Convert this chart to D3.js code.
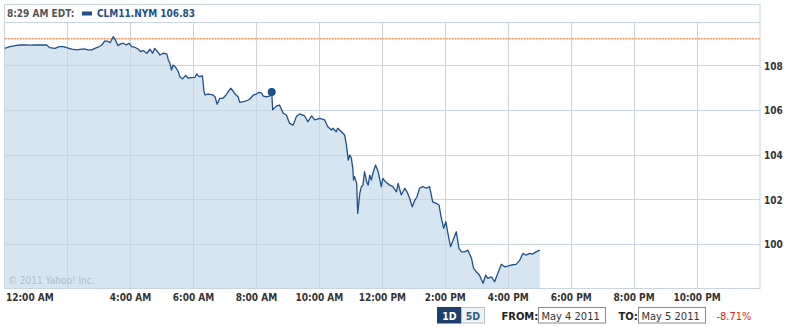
<!DOCTYPE html>
<html>
<head>
<meta charset="utf-8">
<script src="https://cdn.jsdelivr.net/npm/d3@7"></script>
<style>
  body { margin: 0; background: #fff; }
  svg { display: block; font-family: "DejaVu Sans Condensed", "DejaVu Sans", sans-serif; }
</style>
</head>
<body>
<svg></svg>
<script>
const w = 790;
const h = 327;

// minutes after midnight, May 5 2011
const times = [
  0, 10, 20, 29, 39, 48, 58, 67, 80, 86,
  96, 104, 112, 118, 128, 137, 147, 153, 159, 166,
  172, 178, 185, 191, 197, 201, 207, 211, 216, 221,
  226, 232, 237, 242, 248, 255, 259, 264, 271, 277,
  282, 286, 293, 296, 302, 309, 312, 315, 318, 321,
  326, 331, 334, 339, 345, 350, 356, 363, 366, 371,
  377, 380, 382, 388, 397, 401, 405, 410, 416, 422,
  426, 431, 435, 439, 445, 448, 455, 461, 467, 474,
  480, 485, 490, 493, 499, 505, 509, 511, 518, 524,
  531, 537, 543, 550, 556, 562, 572, 578, 585, 591,
  601, 610, 616, 623, 626, 632, 635, 642, 648, 651,
  655, 658, 661, 664, 665, 667, 671, 673, 677, 680,
  683, 686, 690, 693, 696, 699, 702, 707, 712, 718,
  721, 726, 734, 740, 747, 750, 756, 763, 767, 772,
  777, 782, 786, 791, 797, 804, 810, 816, 823, 828,
  832, 837, 841, 845, 850, 855, 861, 866, 871, 877,
  883, 890, 894, 899, 905, 912, 917, 921, 928, 934,
  940, 947, 953, 959, 966, 975, 982, 988, 994, 1001,
  1007, 1013, 1020
];
const prices = [
  108.79, 108.87, 108.91, 108.94, 108.94, 108.93, 108.94, 108.94, 108.94, 108.82,
  108.79, 108.87, 108.87, 108.82, 108.75, 108.72, 108.75, 108.76, 108.72, 108.72,
  108.79, 108.84, 108.94, 109.12, 109.10, 109.04, 109.31, 109.17, 108.91, 108.99,
  109.02, 108.94, 109.02, 108.87, 108.84, 108.75, 108.64, 108.69, 108.57, 108.75,
  108.57, 108.79, 108.60, 108.49, 108.57, 108.54, 108.27, 108.12, 107.82, 108.04,
  107.94, 107.74, 107.52, 107.42, 107.57, 107.45, 107.48, 107.49, 107.64, 107.52,
  107.55, 106.85, 106.70, 106.74, 106.70, 106.62, 106.28, 106.55, 106.55, 106.70,
  106.85, 107.00, 106.89, 106.74, 106.62, 106.37, 106.40, 106.44, 106.51, 106.70,
  106.74, 106.82, 106.78, 106.65, 106.62, 106.65, 106.83, 106.03, 106.21, 106.25,
  105.88, 105.80, 105.43, 105.35, 105.73, 105.85, 105.76, 105.50, 105.76, 105.58,
  105.65, 105.58, 105.28, 105.13, 105.21, 105.05, 105.21, 105.05, 104.91, 104.53,
  103.78, 104.01, 103.86, 103.34, 102.89, 103.04, 102.74, 101.39, 102.29, 102.59,
  102.66, 103.26, 102.81, 102.66, 103.11, 102.89, 103.19, 103.56, 103.26, 102.59,
  102.96, 102.81, 102.66, 102.59, 102.36, 102.74, 102.22, 102.52, 102.36, 102.07,
  101.69, 101.99, 102.14, 102.52, 102.59, 102.52, 102.59, 101.91, 101.84, 101.77,
  101.24, 100.72, 101.02, 100.50, 99.90, 100.20, 100.57, 99.83, 99.67, 99.67,
  99.75, 99.38, 98.93, 98.78, 98.63, 98.26, 98.63, 98.48, 98.55, 98.33,
  98.70, 99.11, 99.00, 99.03, 99.08, 99.11, 99.30, 99.60, 99.52, 99.60,
  99.57, 99.67, 99.75
];
const yTicks = [100, 102, 104, 106, 108];
const prevClose = 109.22;
const hoverIndex = 86; // 8:29 AM point
const symbol = "CLM11.NYM";
const changeLabel = "-8.71%";
const fromLabel = "May 4 2011";
const toLabel = "May 5 2011";

const day = new Date(2011, 4, 5);
const toDate = (m) => new Date(day.getTime() + m * 60000);
const data = times.map((m, i) => ({ t: toDate(m), v: prices[i] }));

const plotL = 4.7, plotR = 760, plotT = 22, plotB = 288;
const gridColor = "#c8d5e0";
const lineColor = "#1f5189";
const crisp = (v) => Math.floor(v) + 0.5;

const svg = d3.select("svg").attr("width", w).attr("height", h);

const x = d3.scaleTime()
  .domain([day, d3.timeDay.offset(day, 1)])
  .range([plotL, plotR]);
const y = d3.scaleLinear()
  .domain([98.05, 109.97])
  .range([plotB, plotT]);

/** filled area */
svg.append("path")
  .datum(data)
  .attr("fill", "#d6e5f0")
  .attr("d", d3.area().x((d) => x(d.t)).y0(plotB).y1((d) => y(d.v)));

/** grid */
const hourTicks = x.ticks(d3.timeHour.every(2)).filter((t) => t > day && t < x.domain()[1]);
svg.selectAll(".vgrid")
  .data(hourTicks)
  .enter()
  .append("line")
  .attr("x1", (d) => crisp(x(d)))
  .attr("x2", (d) => crisp(x(d)))
  .attr("y1", plotT)
  .attr("y2", plotB)
  .attr("stroke", gridColor);

svg.selectAll(".hgrid")
  .data(yTicks)
  .enter()
  .append("line")
  .attr("x1", plotL)
  .attr("x2", plotR)
  .attr("y1", (d) => crisp(y(d)))
  .attr("y2", (d) => crisp(y(d)))
  .attr("stroke", gridColor);

// frame and header separator
svg.append("rect")
  .attr("x", 4.5).attr("y", 4.5)
  .attr("width", 755.5).attr("height", plotB - 4)
  .attr("fill", "none").attr("stroke", gridColor);
svg.append("line")
  .attr("x1", 4.5).attr("x2", plotR)
  .attr("y1", plotT + 0.5).attr("y2", plotT + 0.5)
  .attr("stroke", gridColor);

/** previous close */
svg.append("line")
  .attr("x1", plotL).attr("x2", plotR)
  .attr("y1", y(prevClose)).attr("y2", y(prevClose))
  .attr("stroke", "#f7955a")
  .attr("stroke-width", 1.5)
  .attr("stroke-dasharray", "2,1");

/** price line */
svg.append("path")
  .datum(data)
  .attr("fill", "none")
  .attr("stroke", lineColor)
  .attr("stroke-width", 1.3)
  .attr("stroke-linejoin", "round")
  .attr("d", d3.line().x((d) => x(d.t)).y((d) => y(d.v)));

const hover = data[hoverIndex];
svg.append("circle")
  .attr("cx", x(hover.t))
  .attr("cy", y(hover.v))
  .attr("r", 4)
  .attr("fill", lineColor);

svg.append("text")
  .attr("x", 8).attr("y", 284)
  .attr("font-size", 10)
  .attr("fill", "#b3bcc5")
  .text("\u00a9 2011 Yahoo! Inc.");

/** axis labels */
const fmt = d3.timeFormat("%-I:%M %p");
const labelTicks = [day].concat(hourTicks.filter((t) => t.getHours() !== 2));
svg.selectAll(".xlab")
  .data(labelTicks)
  .enter()
  .append("text")
  .attr("x", (d) => (d.getTime() === day.getTime() ? 6 : x(d)))
  .attr("y", 300.5)
  .attr("text-anchor", (d) => (d.getTime() === day.getTime() ? "start" : "middle"))
  .attr("font-size", 10)
  .attr("font-weight", "bold")
  .attr("fill", "#333")
  .text((d) => fmt(d));

svg.selectAll(".ylab")
  .data(yTicks)
  .enter()
  .append("text")
  .attr("x", 764)
  .attr("y", (d) => y(d) + 3.7)
  .attr("font-size", 10)
  .attr("font-weight", "bold")
  .attr("fill", "#333")
  .text((d) => d);

/** header */
svg.append("text")
  .attr("x", 7).attr("y", 17)
  .attr("font-size", 10)
  .attr("font-weight", "bold")
  .attr("fill", "#555")
  .text(fmt(hover.t) + " EDT:");
svg.append("rect")
  .attr("x", 82).attr("y", 11.5)
  .attr("width", 10).attr("height", 4)
  .attr("fill", lineColor);
svg.append("text")
  .attr("x", 97).attr("y", 17)
  .attr("font-size", 10)
  .attr("font-weight", "bold")
  .attr("fill", lineColor)
  .text(symbol + " " + d3.format(".2f")(hover.v));

/** range controls */
const ctl = svg.append("g");
ctl.append("rect")
  .attr("x", 437.5).attr("y", 307.5).attr("width", 23.5).attr("height", 15.5)
  .attr("fill", "#1c3f6c").attr("stroke", "#1c3f6c");
ctl.append("text")
  .attr("x", 449.5).attr("y", 319.5).attr("text-anchor", "middle")
  .attr("font-size", 10.5).attr("font-weight", "bold").attr("fill", "#fff")
  .text("1D");
ctl.append("rect")
  .attr("x", 461.5).attr("y", 307.5).attr("width", 23).attr("height", 15.5)
  .attr("fill", "#eef2f7").attr("stroke", "#b4c2d0");
ctl.append("text")
  .attr("x", 473).attr("y", 319.5).attr("text-anchor", "middle")
  .attr("font-size", 10.5).attr("font-weight", "bold").attr("fill", "#2b5d8f")
  .text("5D");

ctl.append("text")
  .attr("x", 501.5).attr("y", 319.5)
  .attr("font-size", 11).attr("font-weight", "bold").attr("fill", "#222")
  .text("FROM:");
ctl.append("rect")
  .attr("x", 538.5).attr("y", 307.5).attr("width", 67).attr("height", 15.5)
  .attr("fill", "#fff").attr("stroke", "#8a8a8a");
ctl.append("text")
  .attr("x", 541.5).attr("y", 319.5)
  .attr("font-size", 11).attr("fill", "#333")
  .text(fromLabel);

ctl.append("text")
  .attr("x", 618.5).attr("y", 319.5)
  .attr("font-size", 11).attr("font-weight", "bold").attr("fill", "#222")
  .text("TO:");
ctl.append("rect")
  .attr("x", 638.5).attr("y", 307.5).attr("width", 67).attr("height", 15.5)
  .attr("fill", "#fff").attr("stroke", "#8a8a8a");
ctl.append("text")
  .attr("x", 641.5).attr("y", 319.5)
  .attr("font-size", 11).attr("fill", "#333")
  .text(toLabel);

ctl.append("text")
  .attr("x", 716.5).attr("y", 319.5)
  .attr("font-size", 11).attr("fill", "#e3221c")
  .text(changeLabel);
</script>
</body>
</html>
